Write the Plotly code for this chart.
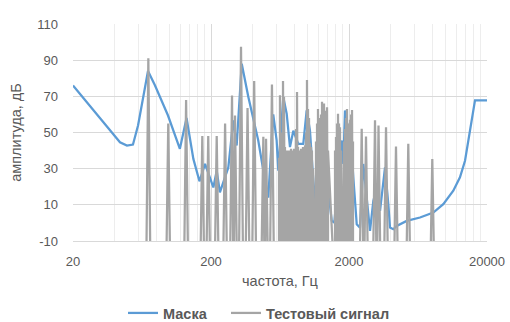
import plotly.graph_objects as go

# ---- data ----
mask_freq = [20, 43.8, 49.2, 54.4, 59.2, 69.9, 78.6, 97.6, 119, 133, 149, 165, 181, 208, 220, 232,
             267, 290, 307, 334, 373, 405, 440, 479, 520, 565, 598, 615, 668, 707, 747, 790, 858,
             933, 987, 1043, 1103, 1167, 1198, 1269, 1340, 1416, 1499, 1565, 1673, 1771, 1818,
             1871, 1977, 2093, 2149, 2275, 2403, 2539, 2612, 2687, 2840, 3001, 3176, 3356, 3648,
             3854, 3965, 4188, 4434, 5238, 6540, 8166, 9647, 11400, 12740, 13860, 14640, 15500,
             16370, 20000]
mask_amp = [76, 44.6, 42.8, 43.3, 53.9, 84, 76, 59.4, 41, 58, 35.4, 23, 32.6, 19.6, 28.9, 16.9,
            30.7, 56.7, 42.8, 88, 69.6, 56.7, 45.6, 28.9, 14, 60, 45.6, 28.9, 69.6, 60.4, 41.9, 51,
            43.7, 43.7, 62.2, 51, 23.3, 3, 51, 47.4, 36.3, 17.8, 1.1, 0.2, 27, 45.6, 32.6, 62.2, 51,
            38.2, 25.2, -0.7, -2.6, 32.6, 23.3, 14.1, -4.4, 12.2, 19.6, 6.7, 30.7, 10.4, -2.6, -3.5,
            -1.7, 1.1, 3, 5.7, 10.4, 17.8, 25.2, 34.4, 45.6, 58.5, 67.8, 67.8]

# isolated tones of the test signal: (trough, peak, trough) triples
test_freq_iso = [20,
                 67.6, 70.3, 73.1,
                 94.2, 98, 101.9,
                 127, 132, 137.3,
                 166.3, 173, 179.9,
                 183.7, 191, 198.6,
                 211.5, 220, 228.8,
                 243.3, 253, 263.1,
                 273, 284, 291, 298.5, 310.4,
                 317.3, 330, 343.2,
                 353.8, 368, 382.7,
                 395.2, 411, 427.4,
                 460.3, 479, 490, 501, 521,
                 532, 553, 575]
test_amp_iso = [-40,
                -40, 91, -40,
                -40, 55, -40,
                -40, 68, -40,
                -40, 48, -40,
                -40, 48, -40,
                -40, 48, -40,
                -40, 55, -40,
                -40, 70.5, -40, 59.4, -40,
                -40, 97.4, -40,
                -40, 63.5, -40,
                -40, 78.5, -40,
                -40, 47.6, -40, 46.5, -40,
                -40, 76.5, -40]

# dense clusters of lines (each line: floor -> peak at the same frequency)
cluster_freq = [622, 632, 643, 654, 665, 676, 687, 699, 711, 723, 735, 747, 760, 773, 786, 799,
                812, 826, 840, 854, 868, 883, 898, 913, 928, 944, 960, 976, 992, 1009, 1026, 1043,
                1061, 1078, 1097,
                1153, 1173, 1192, 1212, 1233, 1254, 1275, 1296, 1318, 1340, 1363, 1386, 1409,
                1584, 1610, 1637, 1665, 1693, 1721, 1750,
                1840, 1871, 1902, 1934, 1967, 2000, 2034, 2068, 2103, 2138]
cluster_amp = [36, 70.6, 42, 50, 78.5, 69.6, 42, 40, 38, 40, 39, 40, 41, 39, 40, 41,
               40, 52, 72.4, 42, 40, 39, 41, 40, 42, 41, 43, 50, 79, 63, 58, 44,
               42, 40, 30,
               45, 55, 63, 58, 55, 60, 67, 60, 66, 62, 60, 64, 40,
               40, 47.5, 55, 60.4, 55, 52.9, 40,
               45, 52, 58, 63, 55, 50, 57, 60, 62.5, 45]

test_freq_hi = [2377, 2472, 2562, 2656, 2762,
                2968, 3087, 3180, 3272, 3403,
                3566, 3709, 3857,
                4212, 4381, 4556,
                5172, 5379, 5594,
                7719, 8028, 8349,
                20000]
test_amp_hi = [-40, 52, -40, 47.8, -40,
               -40, 56.7, -40, 53.9, -40,
               -40, 52.9, -40,
               -40, 42.2, -40,
               -40, 43.7, -40,
               -40, 35.4, -40,
               -40]

x_ticks = [20, 200, 2000, 20000]
x_minor = [20 * k * 10 ** d for d in range(3) for k in range(2, 10)]
y_ticks = [-10, 10, 30, 50, 70, 90, 110]
y_ticktext = ["-10", "10", "30", "50", "70", "90", "110"]
FLOOR = -40

# assemble the test-signal trace
test_x, test_y = list(test_freq_iso), list(test_amp_iso)
for f, a in zip(cluster_freq, cluster_amp):
    test_x += [f, f]
    test_y += [FLOOR, a]
test_x += [cluster_freq[-1]]
test_y += [FLOOR]
test_x += test_freq_hi
test_y += test_amp_hi

FONT = "Liberation Sans"
TXT = "#595959"
W, H = 510, 322

fig = go.Figure()
fig.add_trace(go.Scatter(x=mask_freq, y=mask_amp, mode="lines", name="Маска",
                         line=dict(color="#5B9BD5", width=2.25), legend="legend"))
fig.add_trace(go.Scatter(x=test_x, y=test_y, mode="lines", name="Тестовый сигнал",
                         line=dict(color="#A5A5A5", width=2.25), legend="legend2"))

legend_common = dict(orientation="h", xref="container", yref="container",
                     xanchor="left", y=1 - 313 / H, yanchor="middle",
                     font=dict(family=FONT, size=14.5, color=TXT, weight="bold"),
                     bgcolor="rgba(0,0,0,0)", borderwidth=0)

fig.update_layout(
    width=W, height=H,
    margin=dict(l=73, r=23, t=24, b=81),
    paper_bgcolor="white", plot_bgcolor="white",
    font=dict(family=FONT, size=13, color=TXT),
    showlegend=True,
    legend=dict(x=123 / W, **legend_common),
    legend2=dict(x=226 / W, **legend_common),
    xaxis=dict(type="log", range=[1.30103, 4.30103], automargin=False,
               tickvals=x_ticks, ticktext=[str(v) for v in x_ticks],
               showgrid=True, gridcolor="#D9D9D9", gridwidth=1,
               minor=dict(tickvals=x_minor, showgrid=True, gridcolor="#EDEDED", gridwidth=1),
               showline=True, linecolor="#D9D9D9", linewidth=1,
               zeroline=False, ticks="", ticklabelstandoff=8,
               title=dict(text="частота, Гц", standoff=8, font=dict(size=14.5, color=TXT))),
    yaxis=dict(range=[-10, 110], tickvals=y_ticks, ticktext=y_ticktext, automargin=False,
               showgrid=True, gridcolor="#D9D9D9", gridwidth=1,
               zeroline=False, showline=False, ticks="", ticklabelstandoff=14,
               title=dict(text="амплитуда, дБ", standoff=12, font=dict(size=14.5, color=TXT))),
)

fig.write_html("out.html")
